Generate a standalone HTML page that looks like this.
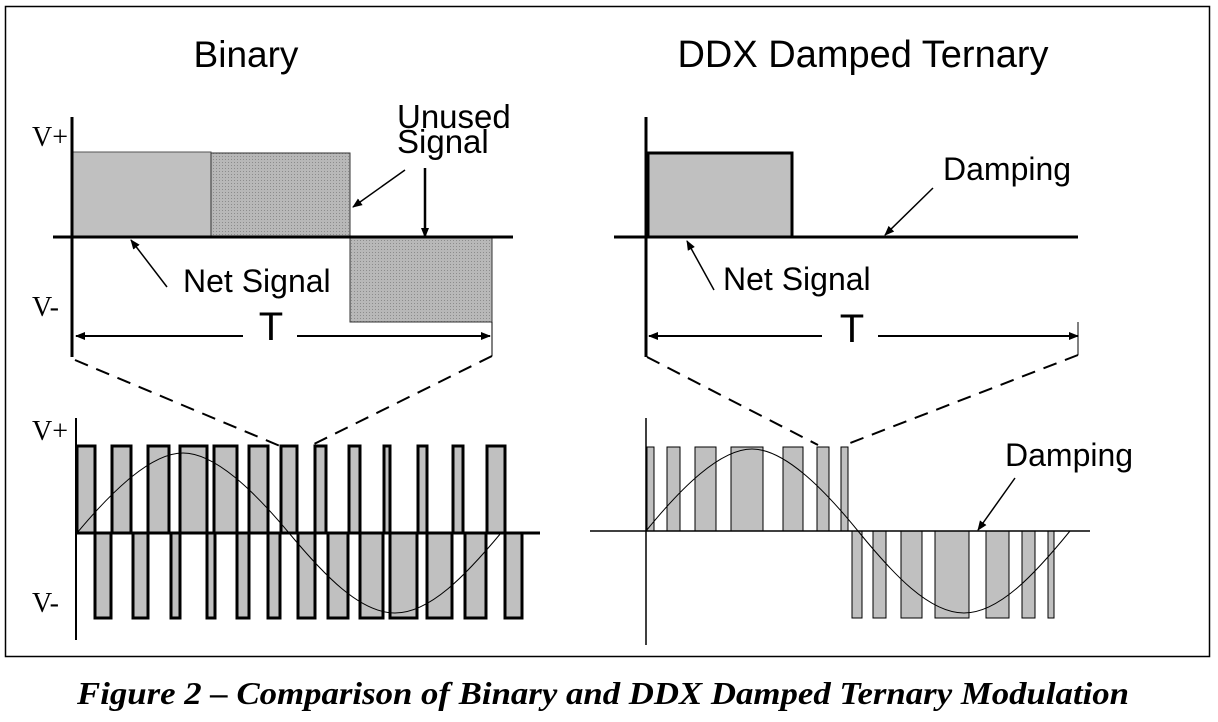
<!DOCTYPE html>
<html><head><meta charset="utf-8"><style>
html,body{margin:0;padding:0;background:#fff;}
svg{display:block;}
.s{font-family:"Liberation Sans",sans-serif;fill:#000;}
.r{font-family:"Liberation Serif",serif;fill:#000;}
</style></head><body>
<svg width="1218" height="722" viewBox="0 0 1218 722" xmlns="http://www.w3.org/2000/svg">
<defs>
<pattern id="dot" width="3" height="3" patternUnits="userSpaceOnUse">
<rect width="3" height="3" fill="#b8b8b8"/><rect width="1" height="1" fill="#8c8c8c"/>
</pattern>
<marker id="ah" markerWidth="10" markerHeight="8" refX="9" refY="4" orient="auto" markerUnits="userSpaceOnUse">
<path d="M0,0 L10,4 L0,8 z" fill="#000"/></marker>
</defs>
<rect x="5.5" y="6.5" width="1204" height="650" fill="none" stroke="#000" stroke-width="1.5"/>

<text x="246" y="67" class="s" font-size="37" text-anchor="middle">Binary</text>
<text x="863" y="67" class="s" font-size="38" text-anchor="middle">DDX Damped Ternary</text>

<!-- Top left -->
<text x="32" y="146" class="r" font-size="28">V+</text>
<text x="32" y="316" class="r" font-size="28">V-</text>
<rect x="73" y="152" width="138" height="85" fill="#c0c0c0" stroke="#555" stroke-width="1"/>
<rect x="211" y="153" width="139" height="84" fill="url(#dot)" stroke="#333" stroke-width="1"/>
<rect x="350" y="237" width="142" height="85" fill="url(#dot)" stroke="#333" stroke-width="1"/>
<line x1="72" y1="117" x2="72" y2="357" stroke="#000" stroke-width="3"/>
<line x1="53" y1="237" x2="513" y2="237" stroke="#000" stroke-width="3"/>
<line x1="492" y1="322" x2="492" y2="356" stroke="#000" stroke-width="1"/>
<text x="397" y="128" class="s" font-size="33">Unused</text>
<text x="397" y="153" class="s" font-size="33">Signal</text>
<line x1="405" y1="170" x2="353" y2="207" stroke="#000" stroke-width="1.5" marker-end="url(#ah)"/>
<line x1="425" y1="168" x2="425" y2="237" stroke="#000" stroke-width="2.5" marker-end="url(#ah)"/>
<text x="183" y="292" class="s" font-size="32">Net Signal</text>
<line x1="167" y1="287" x2="131" y2="240" stroke="#000" stroke-width="1.5" marker-end="url(#ah)"/>
<line x1="243" y1="336" x2="76" y2="336" stroke="#000" stroke-width="2" marker-end="url(#ah)"/>
<line x1="297" y1="336" x2="490" y2="336" stroke="#000" stroke-width="2" marker-end="url(#ah)"/>
<text x="271" y="340" class="s" font-size="40" text-anchor="middle">T</text>
<line x1="75" y1="360" x2="280" y2="446" stroke="#000" stroke-width="2" stroke-dasharray="14,9"/>
<line x1="492" y1="356" x2="310" y2="446" stroke="#000" stroke-width="2" stroke-dasharray="14,9"/>

<!-- Top right -->
<rect x="648" y="153" width="144" height="84" fill="#c0c0c0" stroke="#000" stroke-width="3"/>
<line x1="646" y1="117" x2="646" y2="357" stroke="#000" stroke-width="3"/>
<line x1="614" y1="237" x2="1078" y2="237" stroke="#000" stroke-width="3"/>
<line x1="1078" y1="322" x2="1078" y2="355" stroke="#000" stroke-width="1"/>
<text x="943" y="180" class="s" font-size="32">Damping</text>
<line x1="933" y1="188" x2="885" y2="235" stroke="#000" stroke-width="1.5" marker-end="url(#ah)"/>
<text x="723" y="290" class="s" font-size="32">Net Signal</text>
<line x1="714" y1="290" x2="687" y2="241" stroke="#000" stroke-width="1.5" marker-end="url(#ah)"/>
<line x1="822" y1="336" x2="649" y2="336" stroke="#000" stroke-width="2" marker-end="url(#ah)"/>
<line x1="878" y1="336" x2="1078" y2="336" stroke="#000" stroke-width="2" marker-end="url(#ah)"/>
<text x="852" y="342" class="s" font-size="40" text-anchor="middle">T</text>
<line x1="647" y1="357" x2="818" y2="445" stroke="#000" stroke-width="2" stroke-dasharray="14,9"/>
<line x1="1078" y1="355" x2="845" y2="445" stroke="#000" stroke-width="2" stroke-dasharray="14,9"/>

<!-- Bottom left -->
<text x="32" y="440" class="r" font-size="28">V+</text>
<text x="32" y="612" class="r" font-size="28">V-</text>
<g fill="#c0c0c0" stroke="#000" stroke-width="3">
<rect x="77" y="446" width="18" height="87"/><rect x="112" y="446" width="19" height="87"/>
<rect x="148" y="446" width="21" height="87"/><rect x="180" y="446" width="27" height="87"/>
<rect x="214" y="446" width="23" height="87"/><rect x="249" y="446" width="19" height="87"/>
<rect x="281" y="446" width="16" height="87"/><rect x="315" y="446" width="11" height="87"/>
<rect x="349" y="446" width="11" height="87"/><rect x="384" y="446" width="6" height="87"/>
<rect x="418" y="446" width="9" height="87"/><rect x="453" y="446" width="10" height="87"/>
<rect x="487" y="446" width="18" height="87"/>
<rect x="95" y="533" width="16" height="85"/><rect x="133" y="533" width="15" height="85"/>
<rect x="171" y="533" width="9" height="85"/><rect x="207" y="533" width="8" height="85"/>
<rect x="237" y="533" width="12" height="85"/><rect x="268" y="533" width="12" height="85"/>
<rect x="298" y="533" width="17" height="85"/><rect x="328" y="533" width="20" height="85"/>
<rect x="360" y="533" width="23" height="85"/><rect x="390" y="533" width="27" height="85"/>
<rect x="427" y="533" width="25" height="85"/><rect x="465" y="533" width="21" height="85"/>
<rect x="505" y="533" width="17" height="85"/>
</g>
<line x1="76" y1="418" x2="76" y2="640" stroke="#000" stroke-width="2"/>
<line x1="76" y1="533" x2="540" y2="533" stroke="#000" stroke-width="3"/>
<path d="M77,533 C112,491 151,453 183,453 S254,491 289,533 S360,613 395,613 S466,575 501,533" fill="none" stroke="#000" stroke-width="1"/>

<!-- Bottom right -->
<g fill="#c0c0c0" stroke="#000" stroke-width="1">
<rect x="647" y="447" width="7" height="84"/><rect x="667" y="447" width="13" height="84"/>
<rect x="695" y="447" width="21" height="84"/><rect x="731" y="447" width="32" height="84"/>
<rect x="783" y="447" width="20" height="84"/><rect x="817" y="447" width="12" height="84"/>
<rect x="841" y="447" width="7" height="84"/>
<rect x="852" y="531" width="10" height="87"/><rect x="873" y="531" width="13" height="87"/>
<rect x="901" y="531" width="21" height="87"/><rect x="935" y="531" width="34" height="87"/>
<rect x="986" y="531" width="23" height="87"/><rect x="1022" y="531" width="13" height="87"/>
<rect x="1048" y="531" width="6" height="87"/>
</g>
<line x1="646" y1="418" x2="646" y2="645" stroke="#000" stroke-width="1.5"/>
<line x1="590" y1="531" x2="1090" y2="531" stroke="#000" stroke-width="1.5"/>
<path d="M646,531 C681,488 720,449 752,449 S823,488 858,531 S929,613 964,613 S1035,574 1070,531" fill="none" stroke="#000" stroke-width="1"/>
<text x="1005" y="466" class="s" font-size="32">Damping</text>
<line x1="1015" y1="478" x2="978" y2="530" stroke="#000" stroke-width="1.5" marker-end="url(#ah)"/>

<text x="603" y="704" class="r" font-size="32" font-weight="bold" font-style="italic" text-anchor="middle" textLength="1052" lengthAdjust="spacingAndGlyphs">Figure 2 – Comparison of Binary and DDX Damped Ternary Modulation</text>
</svg>
</body></html>
